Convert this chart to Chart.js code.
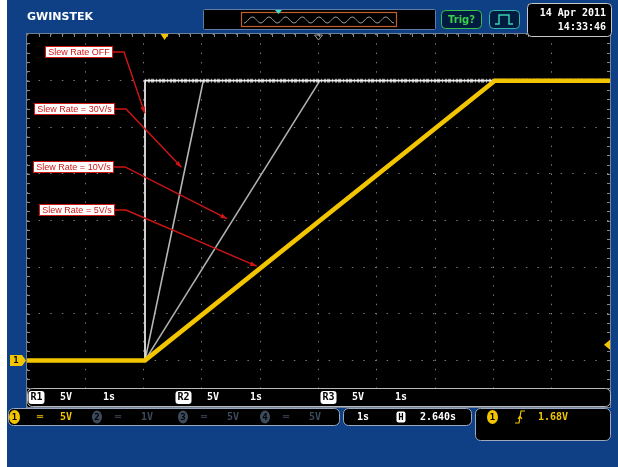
<!DOCTYPE html>
<html>
<head>
<meta charset="utf-8">
<script src="https://cdn.jsdelivr.net/npm/chart.js@4.4.1/dist/chart.umd.min.js"></script>
<style>
  html, body { margin: 0; padding: 0; background: #0f4086; }
  canvas { display: block; }
</style>
</head>
<body>
<canvas id="scope" width="618" height="467"></canvas>
<script>
// screen: 10 div x 8 div, 1 s/div, 5 V/div, trigger 2.640 s left of centre
var timeMin = -2.36, timeMax = 7.64;
var voltMin = -5, voltMax = 35;

// CH1 live trace, slew rate 5 V/s
var ch1Time = [-2.36, -0.336, 5.664, 7.64];
var ch1Volt = [0, 0, 30, 30];
// R1 reference, slew rate off
var offTime = [-2.36, -0.336, -0.336, 7.64];
var offVolt = [0, 0, 30, 30];
// R2 reference, 30 V/s
var r30Time = [-0.336, 0.664];
var r30Volt = [0, 30];
// R3 reference, 10 V/s
var r10Time = [-0.336, 2.664];
var r10Volt = [0, 30];

var noteText = ["Slew Rate OFF", "Slew Rate = 30V/s", "Slew Rate = 10V/s", "Slew Rate = 5V/s"];
var noteTipTime = [-0.34, 0.29, 1.07, 1.58];
var noteTipVolt = [26.5, 20.7, 15.2, 10.1];

// right edge and top of each label box
var noteBox = [[113, 46], [115, 103], [114, 161], [115, 204]];

function pts(t, v) {
	var out = [];
	for (var i in t) out.push({x: t[i], y: v[i]});
	return out;
}

var BLUE = "#0f4086";
var YEL = "#f3c500";
var MONO = '"DejaVu Sans Mono", monospace';

function rrect(ctx, x, y, w, h, r, fill, stroke) {
	ctx.beginPath();
	ctx.roundRect(x, y, w, h, r);
	if (fill) { ctx.fillStyle = fill; ctx.fill(); }
	if (stroke) { ctx.strokeStyle = stroke; ctx.lineWidth = 1; ctx.stroke(); }
}

function txt(ctx, s, x, y, font, color, align) {
	ctx.font = font;
	ctx.fillStyle = color;
	ctx.textAlign = align || "left";
	ctx.textBaseline = "middle";
	ctx.fillText(s, x, y);
}

var screenBg = {
	id: "screenBg",
	beforeDraw: function(chart) {
		var ctx = chart.ctx, a = chart.chartArea;
		ctx.save();
		ctx.fillStyle = BLUE;
		ctx.fillRect(0, 0, chart.width, chart.height);
		ctx.fillStyle = "#ffffff";
		ctx.fillRect(0, 0, 7, chart.height);
		ctx.fillStyle = "#000000";
		ctx.fillRect(a.left, a.top, a.right - a.left, a.bottom - a.top);
		ctx.restore();
	},
	beforeDatasetsDraw: function(chart) {
		// minor ticks round the frame, 5 per division
		var ctx = chart.ctx, a = chart.chartArea;
		var dx = (a.right - a.left) / 50, dy = (a.bottom - a.top) / 40;
		ctx.save();
		ctx.fillStyle = "#8a8a8a";
		for (var i = 1; i < 50; i++) {
			var x = Math.round(a.left + i * dx);
			ctx.fillRect(x, a.top, 1, 3);
			ctx.fillRect(x, a.bottom - 3, 1, 3);
		}
		for (var j = 1; j < 40; j++) {
			var y = Math.round(a.top + j * dy);
			ctx.fillRect(a.left, y, 3, 1);
			ctx.fillRect(a.right - 3, y, 3, 1);
		}
		ctx.strokeStyle = "#6f7f95";
		ctx.lineWidth = 1;
		ctx.strokeRect(a.left - 0.5, a.top - 0.5, a.right - a.left + 1, a.bottom - a.top + 1);
		ctx.restore();
	}
};

var notes = {
	id: "notes",
	afterDatasetsDraw: function(chart) {
		var ctx = chart.ctx, xs = chart.scales.x, ys = chart.scales.y;
		var font = '9px "Liberation Sans"';
		ctx.save();
		for (var i in noteText) {
			ctx.font = font;
			var w = Math.ceil(ctx.measureText(noteText[i]).width) + 6;
			var right = noteBox[i][0], top = noteBox[i][1], h = 12;
			var left = right - w;
			var tx = xs.getPixelForValue(noteTipTime[i]);
			var ty = ys.getPixelForValue(noteTipVolt[i]);
			var sy = top + h / 2;
			var ex = right + 11;
			ctx.strokeStyle = "#d01515";
			ctx.lineWidth = 1.4;
			ctx.beginPath();
			ctx.moveTo(right, sy);
			ctx.lineTo(ex, sy);
			ctx.lineTo(tx, ty);
			ctx.stroke();
			var ang = Math.atan2(ty - sy, tx - ex);
			ctx.fillStyle = "#d01515";
			ctx.beginPath();
			ctx.moveTo(tx, ty);
			ctx.lineTo(tx - 7 * Math.cos(ang - 0.35), ty - 7 * Math.sin(ang - 0.35));
			ctx.lineTo(tx - 7 * Math.cos(ang + 0.35), ty - 7 * Math.sin(ang + 0.35));
			ctx.closePath();
			ctx.fill();
			ctx.fillStyle = "#ffffff";
			ctx.fillRect(left, top, w, h);
			ctx.strokeStyle = "#d01515";
			ctx.lineWidth = 1;
			ctx.strokeRect(left + 0.5, top + 0.5, w - 1, h - 1);
			txt(ctx, noteText[i], left + w / 2, sy + 0.5, font, "#d01515", "center");
		}
		ctx.restore();
	}
};

var chrome = {
	id: "chrome",
	afterDraw: function(chart) {
		var ctx = chart.ctx, a = chart.chartArea;
		var xs = chart.scales.x, ys = chart.scales.y;
		ctx.save();

		// header
		txt(ctx, "GWINSTEK", 27, 17, 'bold 11px "DejaVu Sans"', "#ffffff");
		rrect(ctx, 203.5, 9.5, 232, 20, 1, "#000000", "#5d7ea8");
		ctx.strokeStyle = "#c0602a";
		ctx.lineWidth = 1.2;
		ctx.strokeRect(241.5, 12.5, 155, 14);
		ctx.strokeStyle = "#9a9a9a";
		ctx.lineWidth = 1;
		ctx.beginPath();
		for (var k = 0; k <= 150; k++) {
			var wx = 244 + k;
			var wy = 20 + 3 * Math.cos(k / 150 * 9 * 2 * Math.PI);
			if (k === 0) ctx.moveTo(wx, wy); else ctx.lineTo(wx, wy);
		}
		ctx.stroke();
		ctx.fillStyle = "#40e0d0";
		ctx.beginPath();
		ctx.moveTo(275, 10); ctx.lineTo(282, 10); ctx.lineTo(278.5, 14); ctx.closePath();
		ctx.fill();
		rrect(ctx, 441.5, 10.5, 40, 18, 4, "#001c40", "#39c04a");
		txt(ctx, "Trig?", 461.5, 20, 'bold 10px "DejaVu Sans"', "#39d04a", "center");
		rrect(ctx, 489.5, 10.5, 30, 18, 4, "#001c40", "#30b8a8");
		ctx.strokeStyle = "#39d0b0";
		ctx.lineWidth = 1.5;
		ctx.beginPath();
		ctx.moveTo(495, 24); ctx.lineTo(499, 24); ctx.lineTo(499, 15); ctx.lineTo(509, 15);
		ctx.lineTo(509, 24); ctx.lineTo(513, 24);
		ctx.stroke();
		rrect(ctx, 527.5, 3.5, 84, 33, 4, "#000000", "#c8c8c8");
		txt(ctx, "14 Apr 2011", 606, 13, 'bold 10px ' + MONO, "#ffffff", "right");
		txt(ctx, "14:33:46", 606, 27, 'bold 10px ' + MONO, "#ffffff", "right");

		// trigger position and centre markers
		var trigX = xs.getPixelForValue(0);
		ctx.fillStyle = YEL;
		ctx.beginPath();
		ctx.moveTo(trigX - 4, a.top); ctx.lineTo(trigX + 4, a.top); ctx.lineTo(trigX, a.top + 6); ctx.closePath();
		ctx.fill();
		var cx = (a.left + a.right) / 2;
		ctx.strokeStyle = "#a0a0a0";
		ctx.lineWidth = 1;
		ctx.beginPath();
		ctx.moveTo(cx - 4, a.top + 1); ctx.lineTo(cx + 4, a.top + 1); ctx.lineTo(cx, a.top + 6); ctx.closePath();
		ctx.stroke();

		// trigger level 1.68 V on the right edge
		var lvY = ys.getPixelForValue(1.68);
		ctx.fillStyle = YEL;
		ctx.beginPath();
		ctx.moveTo(a.right - 6, lvY); ctx.lineTo(a.right, lvY - 5); ctx.lineTo(a.right, lvY + 5); ctx.closePath();
		ctx.fill();

		// CH1 ground marker
		var gY = ys.getPixelForValue(0);
		ctx.fillStyle = YEL;
		ctx.beginPath();
		ctx.moveTo(10, gY - 5.5); ctx.lineTo(22, gY - 5.5); ctx.lineTo(26, gY);
		ctx.lineTo(22, gY + 5.5); ctx.lineTo(10, gY + 5.5); ctx.closePath();
		ctx.fill();
		txt(ctx, "1", 16, gY + 0.5, 'bold 9px ' + MONO, "#000000", "center");

		// reference bar
		rrect(ctx, 27.5, 388.5, 583, 18, 5, "#000000", "#b8b8b8");
		var refs = [["R1", 28], ["R2", 175], ["R3", 320]];
		for (var r in refs) {
			var rx = refs[r][1];
			rrect(ctx, rx + 0.5, 391, 16, 13, 3, "#ffffff", null);
			txt(ctx, refs[r][0], rx + 8.5, 397.5, 'bold 10px ' + MONO, "#000000", "center");
			txt(ctx, "5V", rx + 32, 397.5, 'bold 10px ' + MONO, "#ffffff");
			txt(ctx, "1s", rx + 75, 397.5, 'bold 10px ' + MONO, "#ffffff");
		}

		// channel status
		rrect(ctx, 8.5, 408.5, 331, 17, 5, "#000000", "#9aa8c0");
		ctx.fillStyle = YEL;
		ctx.beginPath();
		ctx.ellipse(14.5, 417, 5.5, 7, 0, 0, 2 * Math.PI);
		ctx.fill();
		txt(ctx, "1", 14.5, 417.5, 'bold 9px ' + MONO, "#000000", "center");
		txt(ctx, "\u2550", 40, 417, 'bold 10px ' + MONO, YEL, "center");
		txt(ctx, "5V", 60, 417, 'bold 10px ' + MONO, YEL);
		var dim = "#3d4a5c";
		var off = [["2", "1V", 97], ["3", "5V", 183], ["4", "5V", 265]];
		for (var c in off) {
			var ox = off[c][2];
			ctx.fillStyle = dim;
			ctx.beginPath();
			ctx.ellipse(ox, 417, 5, 6.5, 0, 0, 2 * Math.PI);
			ctx.fill();
			txt(ctx, off[c][0], ox, 417.5, 'bold 9px ' + MONO, "#000000", "center");
			txt(ctx, "\u2550", ox + 21, 417, 'bold 10px ' + MONO, dim, "center");
			txt(ctx, off[c][1], ox + 44, 417, 'bold 10px ' + MONO, dim);
		}

		// timebase
		rrect(ctx, 343.5, 408.5, 128, 17, 5, "#000000", "#9aa8c0");
		txt(ctx, "1s", 357, 417, 'bold 10px ' + MONO, "#ffffff");
		rrect(ctx, 396.5, 411.5, 9, 11, 2, "#ffffff", null);
		txt(ctx, "H", 401, 417.5, 'bold 9px ' + MONO, "#000000", "center");
		txt(ctx, "2.640s", 420, 417, 'bold 10px ' + MONO, "#ffffff");

		// trigger
		rrect(ctx, 475.5, 408.5, 135, 32, 5, "#000000", "#9aa8c0");
		ctx.fillStyle = YEL;
		ctx.beginPath();
		ctx.ellipse(492.5, 417, 5.5, 7, 0, 0, 2 * Math.PI);
		ctx.fill();
		txt(ctx, "1", 492.5, 417.5, 'bold 9px ' + MONO, "#000000", "center");
		ctx.strokeStyle = YEL;
		ctx.lineWidth = 1.2;
		ctx.beginPath();
		ctx.moveTo(515, 423); ctx.lineTo(519, 423); ctx.lineTo(521, 411); ctx.lineTo(525, 411);
		ctx.moveTo(518, 419); ctx.lineTo(520, 416); ctx.lineTo(522, 419);
		ctx.stroke();
		txt(ctx, "1.68V", 538, 417, 'bold 10px ' + MONO, YEL);

		ctx.restore();
	}
};

var divTicks = function(scale) {
	var ticks = [];
	var step = (scale.max - scale.min) / (scale.axis === "x" ? 10 : 8);
	for (var i = 0; i * step <= scale.max - scale.min + 1e-9; i++) ticks.push({value: scale.min + i * step});
	scale.ticks = ticks;
};

var chartdata = {
	datasets: [
		{
			label: "CH1 5V/s",
			data: pts(ch1Time, ch1Volt),
			borderColor: YEL,
			borderWidth: 4.5,
			order: 0
		},
		{
			// fuzz on the settled top of the unlimited step
			label: "R1 OFF top",
			data: pts(offTime.slice(2), offVolt.slice(2)),
			borderColor: "rgba(255,255,255,0.55)",
			borderWidth: 4,
			borderDash: [1, 2, 2, 1, 3, 2],
			order: 1
		},
		{
			label: "R1 OFF",
			data: pts(offTime, offVolt),
			borderColor: "#e6e6e6",
			borderWidth: 1.8,
			order: 2
		},
		{
			label: "R2 30V/s",
			data: pts(r30Time, r30Volt),
			borderColor: "#b8b8b8",
			borderWidth: 1.6,
			order: 3
		},
		{
			label: "R3 10V/s",
			data: pts(r10Time, r10Volt),
			borderColor: "#b0b0b0",
			borderWidth: 1.6,
			order: 4
		}
	]
};

var ctx = document.getElementById("scope");
var scope = new Chart(ctx, {
	type: "line",
	data: chartdata,
	options: {
		responsive: false,
		animation: false,
		devicePixelRatio: 1,
		layout: { padding: { left: 27, right: 8, top: 34, bottom: 60 } },
		elements: {
			point: { radius: 0 },
			line: { tension: 0, fill: false, borderJoinStyle: "miter" }
		},
		plugins: { legend: { display: false }, tooltip: { enabled: false } },
		scales: {
			x: {
				type: "linear",
				min: timeMin,
				max: timeMax,
				afterBuildTicks: divTicks,
				ticks: { display: false },
				grid: { color: "#777777", lineWidth: 1, drawTicks: false },
				border: { display: false, dash: [1.5, 7.8] }
			},
			y: {
				type: "linear",
				min: voltMin,
				max: voltMax,
				afterBuildTicks: divTicks,
				ticks: { display: false },
				grid: { color: "#777777", lineWidth: 1, drawTicks: false },
				border: { display: false, dash: [1.5, 10.1] }
			}
		}
	},
	plugins: [screenBg, notes, chrome]
});
</script>
</body>
</html>
